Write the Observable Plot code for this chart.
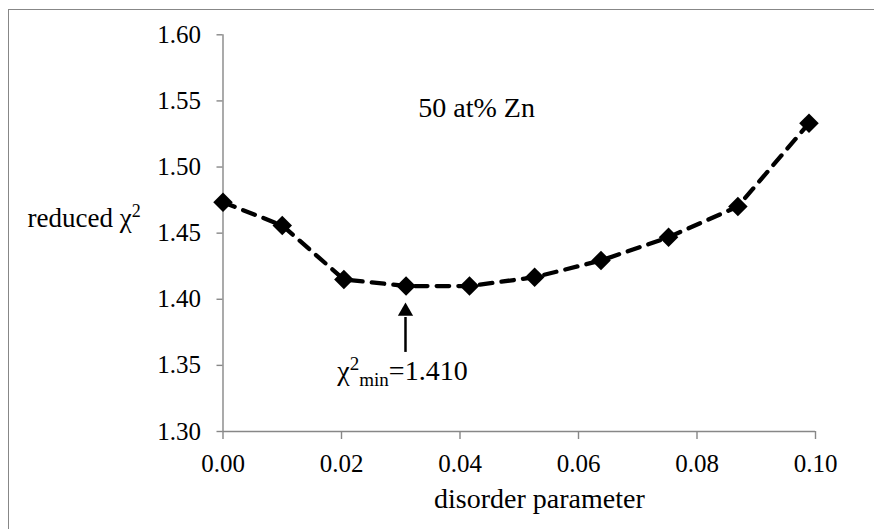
<!DOCTYPE html>
<html><head><meta charset="utf-8">
<script src="https://cdn.jsdelivr.net/npm/d3@7"></script>
<script src="https://cdn.jsdelivr.net/npm/@observablehq/plot@0.6"></script>
<style>
html,body{margin:0;padding:0;background:#fff;}
#wrap{position:relative;width:874px;height:529px;overflow:hidden;}
#frame{position:absolute;left:7.5px;top:8.5px;right:-5px;bottom:-5px;border-left:1.5px solid #878787;border-top:1.5px solid #878787;}
#wrap svg{position:absolute;left:0;top:0;}
</style></head><body><div id="wrap"><div id="frame"></div></div>
<script>
// data
const disorder = [0.0000, 0.0100, 0.0204, 0.0309, 0.0416, 0.0526, 0.0638, 0.0752, 0.0869, 0.0989];
const chi2     = [1.4734, 1.4558, 1.4150, 1.4100, 1.4100, 1.4167, 1.4293, 1.4469, 1.4702, 1.5331];
const xTicks = [0.00, 0.02, 0.04, 0.06, 0.08, 0.10];
const yTicks = [1.30, 1.35, 1.40, 1.45, 1.50, 1.55, 1.60];
const xDomain = [0, 0.10];
const yDomain = [1.30, 1.60];
// annotations
const xLabel = "disorder parameter";
const yLabel = "reduced χ2";
const noteText = "50 at% Zn";
const minText = "χ2min=1.410";
const xLabelPos = {x: 0.0534, y: 1.2418};
const yLabelPos = {x: -0.033, y: 1.455};
const notePos = {x: 0.0428, y: 1.5382};
const minPos = {x: 0.0193, y: 1.3393};
const arrow = {x: 0.0308, tip: 1.3976, base: 1.3862, tail: 1.3598};

const data = disorder.map((x, i) => ({x, y: chi2[i]}));
const gray = "#878787";
const fmt = d => d.toFixed(2);
const serif = "'Liberation Serif', 'Times New Roman', serif";

const svg = Plot.plot({
  width: 874, height: 529,
  marginLeft: 222.5, marginRight: 59, marginTop: 34.3, marginBottom: 98,
  style: {fontSize: "25px", background: "transparent", color: "black", overflow: "visible"},
  x: {domain: xDomain, label: null},
  y: {domain: yDomain, label: null},
  marks: [
    Plot.ruleX([xDomain[0]], {y1: yDomain[0], y2: yDomain[1], stroke: gray, strokeWidth: 1.4}),
    Plot.ruleY([yDomain[0]], {x1: xDomain[0], x2: xDomain[1], stroke: gray, strokeWidth: 1.4}),
    Plot.axisX(xTicks, {anchor: "bottom", tickSize: 8, tickPadding: 15, tickFormat: fmt, stroke: gray, strokeWidth: 1.4, fill: "black", fontSize: 25, label: null}),
    Plot.axisY(yTicks, {anchor: "left", tickSize: 6, tickPadding: 16, tickFormat: fmt, stroke: gray, strokeWidth: 1.4, fill: "black", fontSize: 25, label: null}),
    Plot.line(data, {x: "x", y: "y", stroke: "black", strokeWidth: 4.3, strokeDasharray: "12.5,9.2", strokeLinecap: "round"}),
    Plot.dot(data, {x: "x", y: "y", symbol: "diamond2", r: 8.8, fill: "black", stroke: "none"}),
    Plot.ruleX([arrow.x], {y1: arrow.tail, y2: arrow.base, stroke: "black", strokeWidth: 2.5}),
    Plot.dot([arrow], {x: "x", y: "tip", symbol: "triangle", r: 5.66, dy: 8.8, fill: "black", stroke: "none"}),
    Plot.text([notePos], {x: "x", y: "y", text: () => noteText, textAnchor: "middle", lineAnchor: "bottom", fontSize: 28, fill: "black"}),
    Plot.text([yLabelPos], {x: "x", y: "y", text: () => yLabel, textAnchor: "start", lineAnchor: "bottom", fontSize: 27, fill: "black"}),
    Plot.text([minPos], {x: "x", y: "y", text: () => minText, textAnchor: "start", lineAnchor: "bottom", fontSize: 28, fill: "black"}),
    Plot.text([xLabelPos], {x: "x", y: "y", text: () => xLabel, textAnchor: "middle", lineAnchor: "bottom", fontSize: 28, fill: "black"})
  ]
});

function richify(plain, parts) {
  d3.select(svg).selectAll("text").filter(function() { return this.textContent === plain; }).each(function() {
    const t = d3.select(this);
    t.text(null);
    parts.forEach(p => {
      const s = t.append("tspan").text(p.t);
      if (p.dy) s.attr("dy", p.dy);
      if (p.size) s.attr("font-size", p.size);
    });
  });
}
richify(yLabel, [{t: "reduced χ"}, {t: "2", dy: -10, size: 18}]);
richify(minText, [{t: "χ"}, {t: "2", dy: -10, size: 19}, {t: "min", dy: 16, size: 19}, {t: "=1.410", dy: -6}]);

d3.select(svg).selectAll("text").each(function() {
  this.style.setProperty("font-family", serif, "important");
});

document.getElementById("wrap").appendChild(svg);
</script>
</body></html>
